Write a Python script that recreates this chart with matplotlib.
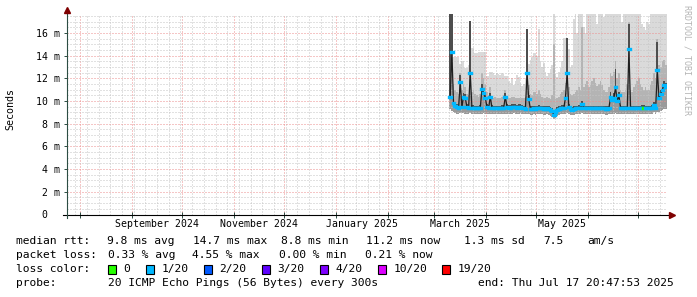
import numpy as np
import pandas as pd
import matplotlib
matplotlib.use('Agg')
import matplotlib.pyplot as plt
import matplotlib.dates as mdates
from matplotlib.ticker import FixedLocator, MultipleLocator, NullFormatter
from matplotlib.patches import Rectangle

# one value per day, 2025-03-10 .. 2025-07-17 (ms)
start_day = '2025-03-10'
median_ms = [
    10.4, 14.3, 9.8, 9.6, 9.5, 9.4, 11.7, 9.5, 10.4, 10.3,
    9.5, 9.4, 12.5, 9.4, 9.4, 9.35, 9.35, 9.35, 9.4, 11.1,
    10.7, 10.3, 9.5, 9.4, 10.4, 9.4, 9.35, 9.35, 9.35, 9.35,
    9.35, 9.4, 9.4, 10.4, 9.5, 9.4, 9.4, 9.45, 9.5, 9.45,
    9.4, 9.45, 9.5, 9.4, 9.35, 9.3, 12.5, 10.2, 9.3, 9.3,
    9.35, 9.3, 9.35, 9.4, 9.35, 9.35, 9.3, 9.3, 9.35, 9.3,
    9.2, 9.1, 8.8, 9.0, 9.25, 9.3, 9.35, 9.4, 9.4, 10.3,
    12.5, 9.5, 9.3, 9.25, 9.3, 9.35, 9.35, 9.4, 9.4, 9.7,
    9.35, 9.35, 9.35, 9.35, 9.35, 9.35, 9.35, 9.35, 9.35, 9.35,
    9.35, 9.35, 9.35, 9.3, 9.3, 9.35, 10.4, 10.1, 10.3, 11.2,
    10.0, 10.5, 9.4, 9.35, 9.35, 9.35, 9.35, 14.6, 9.35, 9.35,
    9.35, 9.35, 9.35, 9.35, 9.35, 9.4, 9.4, 9.35, 9.35, 9.35,
    9.35, 9.4, 9.65, 9.4, 12.7, 10.3, 10.6, 11.0, 11.4, 11.2,
]
smoke_min = [
    9.3, 9.1, 9.0, 8.95, 8.9, 8.9, 8.95, 8.95, 8.95, 8.9,
    8.9, 8.9, 8.95, 8.9, 8.9, 8.9, 8.85, 8.85, 8.9, 8.9,
    8.95, 8.9, 8.9, 8.9, 8.9, 8.9, 8.85, 8.85, 8.85, 8.85,
    8.85, 8.9, 8.9, 8.9, 8.9, 8.9, 8.9, 8.9, 8.95, 8.9,
    8.9, 8.9, 8.95, 8.9, 8.85, 8.85, 8.9, 8.85, 8.8, 8.8,
    8.85, 8.8, 8.85, 8.9, 8.85, 8.85, 8.8, 8.8, 8.85, 8.8,
    8.7, 8.6, 8.4, 8.5, 8.7, 8.8, 8.85, 8.9, 8.9, 8.9,
    8.95, 8.9, 8.8, 8.75, 8.8, 8.85, 8.85, 8.9, 8.9, 8.95,
    8.85, 8.85, 8.85, 8.85, 8.85, 8.85, 8.85, 8.85, 8.85, 8.85,
    8.85, 8.85, 8.85, 8.8, 8.8, 8.85, 8.9, 8.9, 8.9, 8.95,
    8.9, 8.9, 8.9, 8.85, 8.85, 8.85, 8.85, 8.9, 8.85, 8.85,
    8.85, 8.85, 8.85, 8.85, 8.85, 8.9, 8.9, 8.85, 8.85, 8.85,
    8.85, 8.9, 9.0, 8.9, 9.0, 9.0, 9.1, 9.2, 9.3, 9.3,
]
smoke_dark = [
    17.7, 17.7, 10.1, 9.85, 9.75, 9.65, 12.3, 9.75, 10.7, 10.6,
    9.75, 9.65, 17.1, 9.65, 9.65, 9.6, 9.6, 9.6, 9.65, 11.5,
    11.0, 10.6, 9.75, 9.65, 10.7, 9.65, 9.6, 9.6, 9.6, 9.6,
    9.6, 9.65, 9.65, 10.7, 9.75, 9.65, 9.65, 9.7, 9.75, 9.7,
    9.65, 9.7, 9.75, 9.65, 9.6, 9.55, 16.4, 10.5, 9.55, 9.55,
    9.6, 9.55, 9.6, 9.65, 9.6, 9.6, 9.55, 9.55, 9.6, 9.55,
    9.45, 9.35, 9.05, 9.25, 9.5, 9.55, 9.6, 9.65, 9.65, 10.6,
    15.6, 9.75, 9.55, 9.5, 9.55, 9.6, 9.6, 9.65, 9.65, 10.0,
    9.6, 9.6, 9.6, 9.6, 9.6, 9.6, 9.6, 9.6, 9.6, 9.6,
    9.6, 9.6, 9.6, 9.55, 9.55, 9.6, 10.8, 10.4, 10.7, 12.8,
    10.3, 10.8, 9.65, 9.6, 9.6, 9.6, 9.6, 16.8, 9.6, 9.6,
    9.6, 9.6, 9.6, 9.6, 9.6, 9.65, 9.65, 9.6, 9.6, 9.6,
    9.6, 9.65, 9.95, 9.65, 15.2, 10.7, 11.0, 11.4, 11.8, 11.6,
]
smoke_mid = [
    17.6, 17.6, 11.5, 11.0, 10.8, 10.6, 12.5, 11.0, 11.5, 11.2,
    10.6, 10.5, 17.1, 10.8, 11.0, 10.6, 10.5, 10.4, 10.6, 12.5,
    12.0, 11.5, 10.8, 10.5, 11.2, 10.4, 10.3, 10.4, 10.3, 10.3,
    10.3, 10.4, 10.5, 11.0, 10.4, 10.3, 10.3, 10.4, 10.4, 10.3,
    10.3, 10.3, 10.4, 10.3, 10.3, 10.4, 16.4, 11.4, 10.6, 10.5,
    10.8, 10.8, 10.6, 11.0, 10.6, 10.4, 10.3, 10.3, 10.4, 10.3,
    10.2, 10.5, 15.0, 10.2, 10.3, 10.4, 10.6, 10.8, 11.0, 11.6,
    15.6, 11.2, 10.6, 10.5, 10.6, 10.8, 11.0, 11.2, 11.0, 16.5,
    11.2, 11.5, 11.8, 11.2, 11.4, 11.8, 12.0, 11.6, 11.3, 11.5,
    11.8, 11.4, 11.0, 10.8, 10.8, 11.2, 12.5, 12.2, 12.6, 13.5,
    12.0, 12.5, 11.0, 10.8, 10.8, 11.0, 11.5, 17.0, 11.0, 10.8,
    11.2, 11.5, 11.8, 12.0, 11.5, 11.2, 11.0, 11.2, 11.0, 11.0,
    11.4, 11.8, 12.5, 12.0, 15.5, 13.2, 13.0, 13.5, 13.6, 13.2,
]
smoke_max = [
    17.7, 17.7, 13.9, 13.9, 13.9, 13.9, 13.3, 13.5, 13.5, 12.9,
    12.9, 13.2, 17.1, 14.7, 14.7, 14.2, 14.2, 14.3, 14.3, 14.3,
    14.3, 14.3, 12.2, 12.2, 12.6, 12.6, 12.5, 12.3, 12.5, 12.4,
    12.3, 12.5, 12.4, 12.2, 12.2, 11.8, 11.6, 12.0, 11.4, 11.8,
    12.3, 12.1, 11.6, 11.3, 11.5, 12.0, 16.4, 13.3, 13.6, 13.9,
    14.2, 14.2, 14.0, 16.4, 13.5, 13.0, 13.4, 12.6, 12.2, 12.5,
    12.8, 13.2, 17.7, 12.4, 12.1, 12.6, 12.9, 13.5, 15.6, 15.6,
    15.6, 14.6, 13.0, 13.2, 17.2, 17.7, 16.0, 17.7, 17.7, 17.7,
    16.5, 16.0, 17.7, 17.7, 17.7, 17.7, 17.7, 17.7, 16.8, 17.7,
    17.7, 17.7, 17.4, 17.7, 17.7, 17.7, 17.7, 17.7, 17.7, 17.7,
    17.7, 17.7, 17.7, 17.0, 17.7, 17.7, 17.7, 17.7, 17.7, 17.7,
    17.7, 17.7, 17.7, 17.7, 17.7, 16.8, 16.5, 16.3, 17.0, 16.8,
    17.7, 17.7, 17.7, 17.7, 17.7, 17.7, 17.7, 17.7, 17.7, 17.7,
]
# lost pings (out of 20) per day, picks the median colour
loss_pings = [
    1, 1, 1, 1, 1, 1, 1, 1, 1, 1,
    1, 1, 1, 1, 1, 1, 1, 1, 1, 1,
    1, 1, 1, 1, 1, 1, 1, 1, 1, 1,
    1, 1, 1, 1, 1, 1, 1, 1, 1, 1,
    1, 1, 1, 1, 1, 1, 1, 1, 1, 1,
    1, 1, 1, 1, 1, 1, 1, 1, 1, 1,
    1, 1, 1, 1, 1, 1, 1, 1, 1, 1,
    1, 1, 1, 1, 1, 1, 1, 1, 1, 1,
    1, 1, 1, 1, 1, 1, 1, 1, 1, 1,
    1, 1, 1, 1, 1, 1, 1, 1, 1, 1,
    1, 1, 1, 1, 1, 1, 1, 1, 1, 1,
    1, 1, 1, 1, 1, 1, 0, 1, 1, 1,
    1, 1, 1, 1, 1, 1, 1, 1, 1, 1,
]

loss_steps = [0, 1, 2, 3, 4, 10, 19]
loss_names = ['0', '1/20', '2/20', '3/20', '4/20', '10/20', '19/20']
loss_colors = ['#26ff00', '#00b8ff', '#0059ff', '#5e00ff', '#7e00ff', '#dd00ff', '#ff0000']

y_ticks = [0, 2, 4, 6, 8, 10, 12, 14, 16]
y_tick_labels = ['0\u00a0\u00a0', '2 m', '4 m', '6 m', '8 m', '10 m', '12 m', '14 m', '16 m']
month_labels = ['September 2024', 'November 2024', 'January 2025', 'March 2025', 'May 2025']
month_starts = ['2024-09-01', '2024-11-01', '2025-01-01', '2025-03-01', '2025-05-01']

legend_rows = [
    [('median rtt:', 16), ('9.8 ms avg', 107), ('14.7 ms max', 193), ('8.8 ms min', 281),
     ('11.2 ms now', 366), ('1.3 ms sd', 464.5), ('7.5', 543), ('am/s', 587)],
    [('packet loss:', 16), ('0.33 % avg', 107.5), ('4.55 % max', 192.5),
     ('0.00 % min', 279), ('0.21 % now', 365)],
    [('loss color:', 16)],
    [('probe:', 16), ('20 ICMP Echo Pings (56 Bytes) every 300s', 107.5),
     ('end: Thu Jul 17 20:47:53 2025', 478)],
]
legend_y = [241, 255, 269, 283]
box_x = [108, 146, 204, 262, 320, 378, 442]

W, H = 697, 297
mono = 'DejaVu Sans Mono'

fig = plt.figure(figsize=(W / 100, H / 100), dpi=100)
fig.patch.set_facecolor('white')
ax = fig.add_axes([67 / W, 1 - 214.5 / H, 600 / W, 200.5 / H])

n = len(median_ms)
edges = mdates.date2num(pd.date_range(start_day, periods=n + 1, freq='D'))
days = edges[:-1]

def ext(v):
    return list(v) + [v[-1]]

# smoke, lightest (all pings) to darkest (around the median)
ax.fill_between(edges, ext(smoke_min), ext(smoke_max), step='post', color='#dadada', lw=0, zorder=1)
ax.fill_between(edges, ext(smoke_min), ext(smoke_mid), step='post', color='#b4b4b4', lw=0, zorder=1.1)
ax.fill_between(edges, ext(smoke_min), ext(median_ms), step='post', color='#9a9a9a', lw=0, zorder=1.15)
ax.fill_between(edges, ext(median_ms), ext(smoke_dark), step='post', color='#4e4e4e', lw=0, zorder=2.6)

# median line: thin black base, loss-coloured segments on top
ax.plot(days + 0.5, median_ms, color='#202020', lw=0.9, zorder=3)
seg_colors = [loss_colors[loss_steps.index(p)] for p in loss_pings]
segs = ax.hlines(median_ms, days, days + 1, colors=seg_colors, lw=2.4, zorder=4)
segs.set_capstyle('projecting')

ax.set_xlim(mdates.date2num(pd.Timestamp('2024-07-24 02:00')),
            mdates.date2num(pd.Timestamp('2025-07-18 07:00')))
ax.set_ylim(0, 17.68)

# grid
ax.xaxis.set_major_locator(mdates.MonthLocator())
ax.xaxis.set_minor_locator(mdates.WeekdayLocator(byweekday=mdates.MO))
ax.xaxis.set_major_formatter(NullFormatter())
ax.yaxis.set_major_locator(FixedLocator(y_ticks))
ax.yaxis.set_minor_locator(MultipleLocator(0.5))
ax.set_yticklabels(y_tick_labels, fontfamily=mono, fontsize=7.1)
ax.set_axisbelow(False)
ax.grid(which='minor', color='#c4c4c4', linestyle=(0, (1, 2)), lw=0.72)
ax.grid(which='major', color='#ec8e8e', linestyle=(0, (1, 2)), lw=0.72)
ax.tick_params(axis='y', which='major', direction='out', length=2, width=0.7, pad=3, color='#2c4d43')
ax.tick_params(axis='y', which='minor', length=0)
ax.tick_params(axis='x', which='major', direction='inout', length=4, width=0.7, color='#2c4d43')
ax.tick_params(axis='x', which='minor', length=0)
for s in ax.spines.values():
    s.set_visible(False)

# axes with arrows
ax.plot([-4 / 600, 604 / 600], [0, 0], transform=ax.transAxes, clip_on=False,
        color='#000000', lw=0.8, zorder=6)
ax.plot([0, 0], [-3 / 200.5, 1.02], transform=ax.transAxes, clip_on=False,
        color='#2c4d43', lw=0.8, zorder=6)
ax.plot([1.008], [0], marker='>', ms=4, color='#7f0000', transform=ax.transAxes, clip_on=False, zorder=7)
ax.plot([0], [1.022], marker='^', ms=4, color='#7f0000', transform=ax.transAxes, clip_on=False, zorder=7)

# month labels, centred in the month
for lab, ms in zip(month_labels, month_starts):
    a = pd.Timestamp(ms)
    b = a + pd.offsets.MonthBegin(1)
    mid = mdates.date2num(a + (b - a) / 2)
    ax.text(mid, -9.5 / 200.5, lab, transform=ax.get_xaxis_transform(),
            ha='center', va='center', fontfamily=mono, fontsize=7.1)

fig.text(10 / W, 1 - 109 / H, 'Seconds', rotation=90, ha='center', va='center',
         fontfamily=mono, fontsize=7.2)
fig.text(687 / W, 1 - 5 / H, 'RRDTOOL / TOBI OETIKER', rotation=270, ha='center', va='top',
         fontfamily=mono, fontsize=6.0, color='#b4b4b4')

# legend
for row, y in zip(legend_rows, legend_y):
    for txt, x in row:
        fig.text(x / W, 1 - y / H, txt, ha='left', va='center', fontfamily=mono, fontsize=8.1)
for bx, c, name in zip(box_x, loss_colors, loss_names):
    fig.add_artist(Rectangle((bx / W, 1 - 273.5 / H), 8 / W, 9 / H, transform=fig.transFigure,
                             facecolor=c, edgecolor='black', lw=0.8))
    fig.text((bx + 15.5) / W, 1 - 269 / H, name, ha='left', va='center', fontfamily=mono, fontsize=8.1)

fig.savefig('out.png', dpi=100)
